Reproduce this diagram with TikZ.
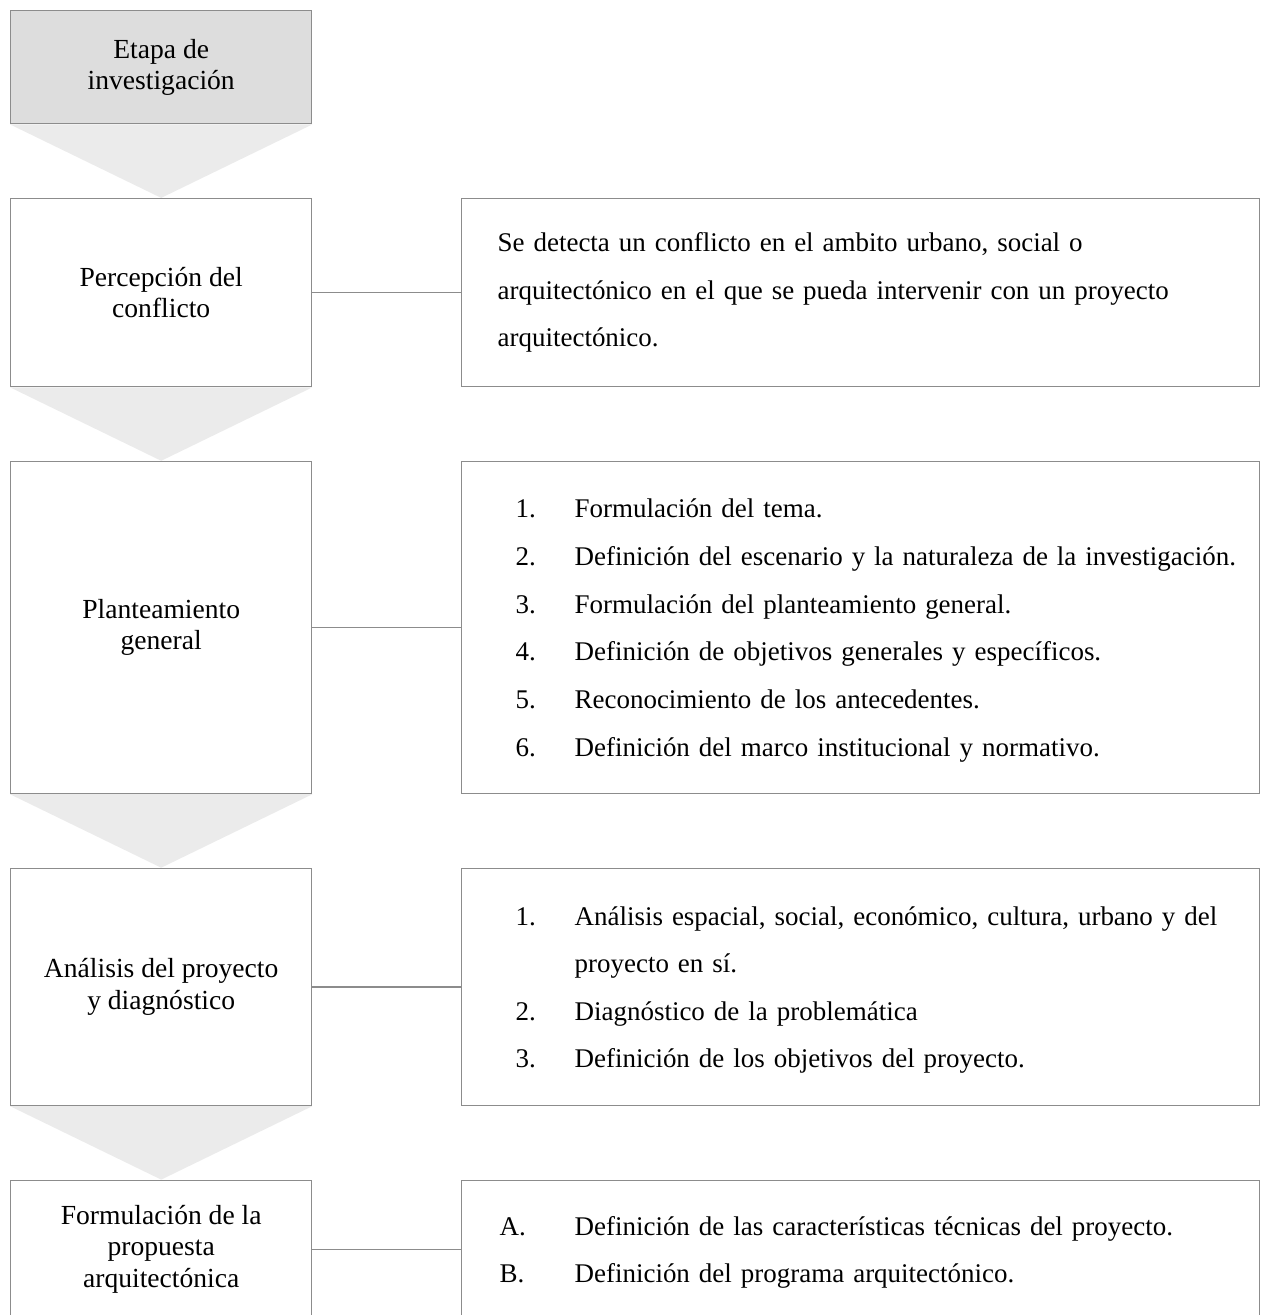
\documentclass[tikz,border=0pt]{standalone}
\usepackage{fontspec}
\setmainfont{Liberation Serif}
\usepackage{tikz}
\usetikzlibrary{positioning,backgrounds}
\definecolor{lineagris}{HTML}{8C8C8C}
\definecolor{cajagris}{HTML}{DDDDDD}
\definecolor{flechagris}{HTML}{EBEBEB}

\begin{document}
\begin{tikzpicture}
\tikzstyle{etapa}=[draw=lineagris,line width=0.8pt,minimum width=6.02cm,align=center,inner sep=0pt,font=\fontsize{15.7}{17.8}\selectfont];
\tikzstyle{detalle}=[draw=lineagris,line width=0.8pt,inner xsep=0.72cm,inner ysep=0pt,text width=14.52cm,align=left,font=\fontsize{15.35}{27.1}\selectfont];
\tikzstyle{flecha}=[fill=flechagris];
\tikzstyle{enlace}=[draw=lineagris,line width=0.8pt];
\clip (0,0) rectangle (25.2,-26.3);
\node[etapa,fill=cajagris,minimum height=2.26cm,anchor=north west] (inv) at (0.2,-0.2) {Etapa de\\investigación};
\node[etapa,minimum height=3.76cm,below=1.47cm of inv] (perc) {Percepción del\\conflicto};
\node[etapa,minimum height=6.64cm,below=1.47cm of perc] (plan) {Planteamiento\\general};
\node[etapa,minimum height=4.74cm,below=1.47cm of plan] (anal) {Análisis del proyecto\\y diagnóstico};
\node[etapa,minimum height=2.76cm,below=1.47cm of anal] (form) {Formulación de la\\propuesta\\arquitectónica};

\node[detalle,minimum height=3.76cm,right=2.97cm of perc] (dperc) {Se detecta un conflicto en el ambito urbano, social o\\arquitectónico en el que se pueda intervenir con un proyecto\\arquitectónico.};
\node[detalle,minimum height=6.64cm,right=2.97cm of plan] (dplan) {%
\begin{tabular}{@{\hspace{0.36cm}}p{1.18cm}@{}l@{}}
1. & Formulación del tema.\\
2. & Definición del escenario y la naturaleza de la investigación.\\
3. & Formulación del planteamiento general.\\
4. & Definición de objetivos generales y específicos.\\
5. & Reconocimiento de los antecedentes.\\
6. & Definición del marco institucional y normativo.
\end{tabular}};
\node[detalle,minimum height=4.74cm,right=2.97cm of anal] (danal) {%
\begin{tabular}{@{\hspace{0.36cm}}p{1.18cm}@{}l@{}}
1. & Análisis espacial, social, económico, cultura, urbano y del\\
   & proyecto en sí.\\
2. & Diagnóstico de la problemática\\
3. & Definición de los objetivos del proyecto.
\end{tabular}};
\node[detalle,minimum height=2.76cm,right=2.97cm of form] (dform) {%
\begin{tabular}{@{\hspace{0.04cm}}p{1.50cm}@{}l@{}}
A. & Definición de las características técnicas del proyecto.\\
B. & Definición del programa arquitectónico.
\end{tabular}};

\begin{scope}[on background layer]
\fill[flecha] (inv.south west) -- (inv.south east) -- (perc.north) -- cycle;
\fill[flecha] (perc.south west) -- (perc.south east) -- (plan.north) -- cycle;
\fill[flecha] (plan.south west) -- (plan.south east) -- (anal.north) -- cycle;
\fill[flecha] (anal.south west) -- (anal.south east) -- (form.north) -- cycle;
\end{scope}

\draw[enlace] (perc) -- (dperc);
\draw[enlace] (plan) -- (dplan);
\draw[enlace] (anal) -- (danal);
\draw[enlace] (form) -- (dform);
\end{tikzpicture}
\end{document}
